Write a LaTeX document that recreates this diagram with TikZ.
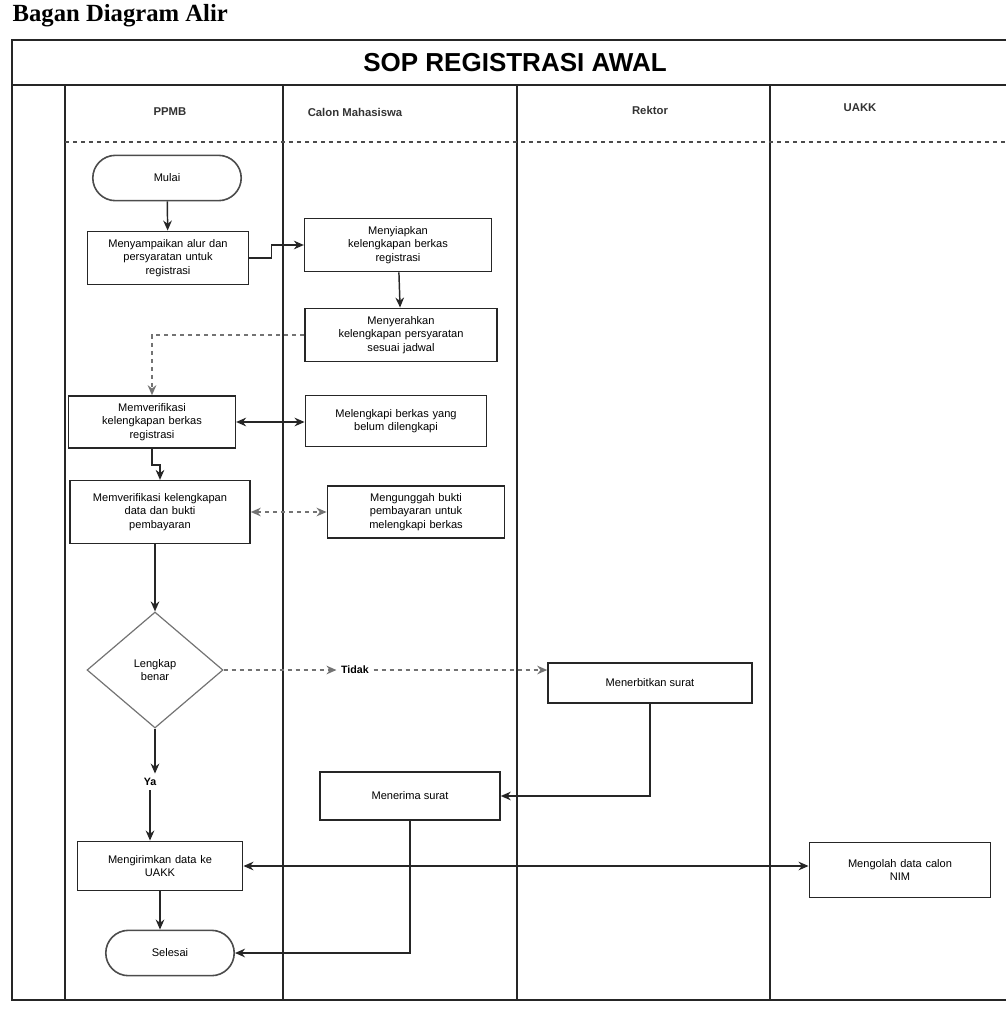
\documentclass[tikz,border=0pt]{standalone}
\usepackage{fontspec}
\setmainfont{Liberation Sans}
\newfontfamily\titleserif{Liberation Serif}
\usetikzlibrary{arrows.meta,shapes.geometric,shapes.misc}
\begin{document}
\begin{tikzpicture}[x=0.75pt,y=-0.75pt,
  tip/.tip={Stealth[length=7.5pt,width=6.5pt]},
  lane/.style={line width=1.3pt,draw=black!85},
  proc/.style={draw=black!85,line width=1.2pt,align=center,inner sep=2pt,
    font=\fontsize{8.3}{10}\selectfont},
  term/.style={draw=black!70,line width=1.2pt,rounded rectangle,align=center,
    font=\fontsize{8.3}{10}\selectfont},
  decide/.style={draw=black!55,line width=0.9pt,diamond,align=center,
    font=\fontsize{8.3}{10}\selectfont,inner sep=0pt},
  lanehead/.style={font=\bfseries\fontsize{8.5}{10}\selectfont,text=black!80},
  lbl/.style={font=\bfseries\fontsize{8}{10}\selectfont},
  arr/.style={draw=black!85,line width=1.1pt,-tip},
  arrboth/.style={draw=black!85,line width=1.1pt,tip-tip},
  faint/.style={draw=black!55,line width=1pt,dashed}]
\useasboundingbox (0,0) rectangle (1006,1036);

% heading above the table
\node[anchor=west,font=\titleserif\bfseries\fontsize{18.5}{20}\selectfont] (heading) at (8,16) {Bagan Diagram Alir};

% table frame and swimlanes
\draw[lane] (1006,40) -- (12,40) -- (12,1000) -- (1006,1000);
\draw[lane] (12,85) -- (1006,85);
\draw[lane] (65,85) -- (65,1000);
\draw[lane] (283,85) -- (283,1000);
\draw[lane] (517,85) -- (517,1000);
\draw[lane] (770,85) -- (770,1000);
\draw[draw=black!70,line width=1pt,dashed] (65,142) -- (1006,142);

\node[font=\bfseries\fontsize{19.5}{22}\selectfont] (sop) at (515,63) {SOP REGISTRASI AWAL};
\node[lanehead] (hppmb) at (170,112) {PPMB};
\node[lanehead] (hcalon) at (355,112) {Calon Mahasiswa};
\node[lanehead] (hrektor) at (650,110) {Rektor};
\node[lanehead] (huakk) at (860,108) {UAKK};

% process steps
\node[term,minimum width=118pt,minimum height=34pt] (mulai) at (167,178) {Mulai};
\node[proc,minimum width=121pt,minimum height=40pt,text width=114pt] (umum) at (168,258)
  {Menyampaikan alur dan\\persyaratan untuk\\registrasi};
\node[proc,minimum width=140pt,minimum height=40pt,text width=132pt] (siap) at (398,245)
  {Menyiapkan\\kelengkapan berkas\\registrasi};
\node[proc,minimum width=144pt,minimum height=40pt,text width=136pt] (serah) at (401,335)
  {Menyerahkan\\kelengkapan persyaratan\\sesuai jadwal};
\node[proc,minimum width=125pt,minimum height=39pt,text width=118pt] (verif) at (152,422)
  {Memverifikasi\\kelengkapan berkas\\registrasi};
\node[proc,minimum width=136pt,minimum height=38pt,text width=128pt] (lengkapi) at (396,421)
  {Melengkapi berkas yang\\belum dilengkapi};
\node[proc,minimum width=135pt,minimum height=47pt,text width=128pt] (bukti) at (160,512)
  {Memverifikasi kelengkapan\\data dan bukti\\pembayaran};
\node[proc,minimum width=133pt,minimum height=39pt,text width=126pt] (unggah) at (416,512)
  {Mengunggah bukti\\pembayaran untuk\\melengkapi berkas};
\node[decide,minimum width=102pt,minimum height=87pt] (cek) at (155,670)
  {Lengkap\\benar};
\node[lbl] (tidak) at (355,670) {Tidak};
\node[proc,minimum width=153pt,minimum height=30pt] (terbit) at (650,683) {Menerbitkan surat};
\node[lbl] (ya) at (150,782) {Ya};
\node[proc,minimum width=135pt,minimum height=36pt] (terima) at (410,796) {Menerima surat};
\node[proc,minimum width=124pt,minimum height=37pt,text width=118pt] (kirim) at (160,866)
  {Mengirimkan data ke\\UAKK};
\node[proc,minimum width=136pt,minimum height=41pt,text width=128pt] (olah) at (900,870)
  {Mengolah data calon\\NIM};
\node[term,minimum width=103pt,minimum height=34pt] (selesai) at (170,953) {Selesai};

% connectors
\draw[arr] (mulai) -- (umum);
\draw[arr] (umum.east) -- ++(22,0) |- (siap.west);
\draw[arr] (siap) -- (serah);
\draw[faint,-tip] (serah.west) -| (verif.north);
\draw[arrboth] (verif.east) -- (verif.east -| lengkapi.west);
\draw[arr] (verif.south) -- ++(0,16) -| (bukti.north);
\draw[faint,tip-tip] (bukti.east) -- (unggah.west);
\draw[arr] (cek.north |- bukti.south) -- (cek.north);
\draw[faint,-tip] (cek.east) -- (tidak.west);
\draw[faint,-tip] (tidak.east) -- (tidak.east -| terbit.west);
\draw[arr] (terbit.south) |- (terima.east);
\draw[arr] (cek.south) -- (cek.south |- ya.north);
\draw[arr] (ya.south) -- (ya.south |- kirim.north);
\draw[arrboth] (kirim.east) -- (kirim.east -| olah.west);
\draw[arr] (kirim.south) -- (kirim.south |- selesai.north);
\draw[arr] (terima.south) |- (selesai.east);
\end{tikzpicture}
\end{document}
